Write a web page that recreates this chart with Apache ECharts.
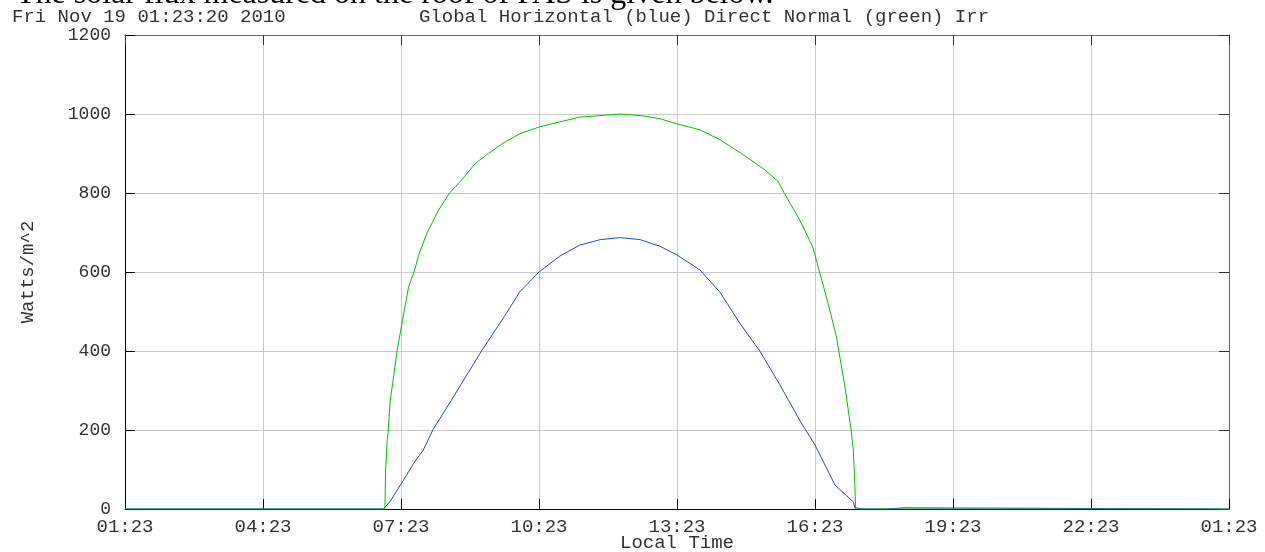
<!DOCTYPE html>
<html><head><meta charset="utf-8">
<script src="https://cdn.jsdelivr.net/npm/echarts@6/dist/echarts.min.js"></script>
<style>html,body{margin:0;padding:0;background:#fff}#c{width:1265px;height:552px}</style>
</head><body><div id="c"></div>
<script>
const headerText = 'The solar flux measured on the roof of PAS is given below.';
const dateText = 'Fri Nov 19 01:23:20 2010';
const titleText = 'Global Horizontal (blue) Direct Normal (green) Irr';
const xAxisName = 'Local Time';
const yAxisName = 'Watts/m^2';
const xTickLabels = ['01:23','04:23','07:23','10:23','13:23','16:23','19:23','22:23','01:23'];
const yTickValues = [0,200,400,600,800,1000,1200];

// time in minutes after 01:23
const globalMinutes = [0,337,346,361,378,389,402,424,465,496,515,540,567,593,620,646,672,698,720,750,776,802,828,854,880,900,926,932,950,952,956,961,993,994,1017,1018,1440];
const globalValues  = [0,0,20,66,120,149,202,270,400,491,550,600,640,668,682,687,682,665,643,605,549,470,400,315,225,162,61,50,18,3,2,0,0,3,3,0,0];

const directMinutes = [0,339,340,342,343,345,346,350,352,355,362,370,377,384,394,409,423,439,457,474,493,515,540,567,593,620,646,672,698,720,750,776,804,835,852,860,880,897,906,917,928,931,939,947,950,952,953,1440];
const directValues  = [0,0,100,175,190,192,276,330,360,402,478,563,600,648,699,757,799,833,875,900,926,950,967,980,992,996,1000,996,988,975,960,935,900,858,829,799,732,664,600,521,436,400,310,202,149,60,0,0];

const MONO = '"Liberation Mono", "DejaVu Sans Mono", monospace';
const xStep = 180, xMax = 1440;
const yMin = yTickValues[0], yMax = yTickValues[yTickValues.length-1], yStep = yTickValues[1]-yTickValues[0];

const chart = echarts.init(document.getElementById('c'), null, {renderer:'canvas'});
chart.setOption({
  animation:false,
  backgroundColor:'#fff',
  grid:{left:125, right:36, top:35, bottom:43, containLabel:false, outerBoundsMode:'none',
        show:false},
  graphic:[
    {type:'text', x:16, y:-5, silent:true, style:{text:headerText, fontSize:32, fontFamily:'"Liberation Serif", serif', fill:'#000', verticalAlign:'middle', align:'left'}},
    {type:'text', x:12, y:17, silent:true, style:{text:dateText, fontSize:19, fontFamily:MONO, fill:'#333', verticalAlign:'middle', align:'left'}},
    {type:'text', x:704, y:17, silent:true, style:{text:titleText, fontSize:19, fontFamily:MONO, fill:'#333', verticalAlign:'middle', align:'center'}}
  ],
  xAxis:[{
    type:'value', min:0, max:xMax, interval:xStep, position:'bottom',
    name:xAxisName, nameLocation:'middle', nameGap:24, nameMoveOverlap:false,
    nameTextStyle:{fontSize:19, fontFamily:MONO, color:'#333'},
    axisLine:{show:true, onZero:false, lineStyle:{color:'#000', width:1}},
    axisTick:{show:true, inside:true, length:10, lineStyle:{color:'#000', width:1}},
    axisLabel:{show:true, margin:8, fontSize:19, fontFamily:MONO, color:'#333',
      formatter:function(v){return xTickLabels[Math.round(v/xStep)];}},
    splitLine:{show:true, lineStyle:{color:'#c8c8c8', width:1}}
  },{
    type:'value', min:0, max:xMax, interval:xStep, position:'top',
    axisLine:{show:true, onZero:false, lineStyle:{color:'#666', width:1}},
    axisTick:{show:true, inside:true, length:10, lineStyle:{color:'#333', width:1}},
    axisLabel:{show:false}, splitLine:{show:false}
  }],
  yAxis:[{
    type:'value', min:yMin, max:yMax, interval:yStep, position:'left',
    name:yAxisName, nameLocation:'middle', nameGap:88, nameRotate:90, nameMoveOverlap:false,
    nameTextStyle:{fontSize:19, fontFamily:MONO, color:'#333'},
    axisLine:{show:true, onZero:false, lineStyle:{color:'#000', width:1}},
    axisTick:{show:true, inside:true, length:10, lineStyle:{color:'#000', width:1}},
    axisLabel:{show:true, margin:14, fontSize:18, fontFamily:MONO, color:'#333',
      formatter:function(v){return String(yTickValues[Math.round((v-yMin)/yStep)]);}},
    splitLine:{show:true, lineStyle:{color:'#c8c8c8', width:1}}
  },{
    type:'value', min:yMin, max:yMax, interval:yStep, position:'right',
    axisLine:{show:true, onZero:false, lineStyle:{color:'#666', width:1}},
    axisTick:{show:true, inside:true, length:10, lineStyle:{color:'#333', width:1}},
    axisLabel:{show:false}, splitLine:{show:false}
  }],
  series:[
    {name:'Global Horizontal', type:'line', xAxisIndex:0, yAxisIndex:0, showSymbol:false, symbol:'none',
     data:globalMinutes.map((m,i)=>[m, globalValues[i]]),
     lineStyle:{color:'#2244dd', width:1}, z:3},
    {name:'Direct Normal', type:'line', xAxisIndex:0, yAxisIndex:0, showSymbol:false, symbol:'none',
     data:directMinutes.map((m,i)=>[m, directValues[i]]),
     lineStyle:{color:'#00c000', width:1}, z:4}
  ]
});
</script>
</body></html>
